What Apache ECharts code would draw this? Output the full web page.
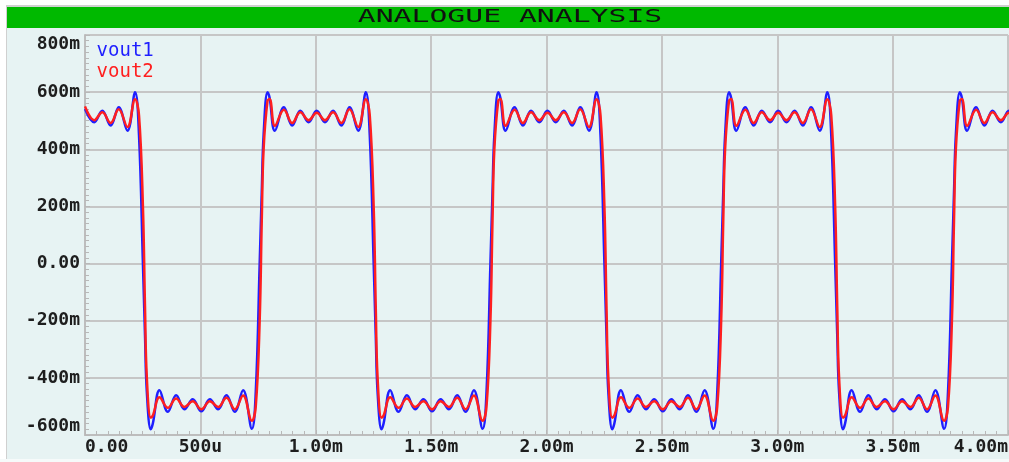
<!DOCTYPE html>
<html style="height: 100%">
<head>
    <meta charset="utf-8">
    <script src="https://cdn.jsdelivr.net/npm/echarts@6/dist/echarts.min.js"></script>
</head>
<body style="height: 100%; margin: 0; background: #fff">
    <div id="main" style="width: 1009px; height: 462px"></div>
    <script type="text/javascript">
        // time in ms
        var timeMs = [
            0, 0.04, 0.075, 0.111, 0.146, 0.184, 0.217, 0.234, 0.251, 0.26, 0.268, 0.285, 0.294, 0.323, 0.359, 0.395, 0.431, 0.467,
            0.504, 0.541, 0.577, 0.613, 0.649, 0.685, 0.723, 0.74, 0.757, 0.766, 0.774, 0.791, 0.8, 0.823, 0.862, 0.898, 0.933, 0.969,
            1.004, 1.04, 1.075, 1.111, 1.146, 1.184, 1.217, 1.234, 1.251, 1.26, 1.268, 1.285, 1.294, 1.323, 1.359, 1.395, 1.431, 1.467,
            1.504, 1.541, 1.577, 1.613, 1.649, 1.685, 1.723, 1.74, 1.757, 1.766, 1.774, 1.791, 1.8, 1.823, 1.862, 1.898, 1.933, 1.969,
            2.004, 2.04, 2.075, 2.111, 2.146, 2.184, 2.217, 2.234, 2.251, 2.26, 2.268, 2.285, 2.294, 2.323, 2.359, 2.395, 2.431, 2.467,
            2.504, 2.541, 2.577, 2.613, 2.649, 2.685, 2.723, 2.74, 2.757, 2.766, 2.774, 2.791, 2.8, 2.823, 2.862, 2.898, 2.933, 2.969,
            3.004, 3.04, 3.075, 3.111, 3.146, 3.184, 3.217, 3.234, 3.251, 3.26, 3.268, 3.285, 3.294, 3.323, 3.359, 3.395, 3.431, 3.467,
            3.504, 3.541, 3.577, 3.613, 3.649, 3.685, 3.723, 3.74, 3.757, 3.766, 3.774, 3.791, 3.8, 3.823, 3.862, 3.898, 3.933, 3.969,
            4.004, 4.04
        ];

        // volts
        var vout1 = [
            0.541, 0.495, 0.535, 0.483, 0.547, 0.465, 0.6, 0.45, 0, -0.25, -0.45, -0.58, -0.56, -0.443, -0.519, -0.461, -0.51, -0.475,
            -0.517, -0.475, -0.51, -0.461, -0.519, -0.443, -0.578, -0.45, 0, 0.25, 0.45, 0.6, 0.58, 0.465, 0.547, 0.483, 0.535, 0.495,
            0.535, 0.495, 0.535, 0.483, 0.547, 0.465, 0.6, 0.45, 0, -0.25, -0.45, -0.58, -0.56, -0.443, -0.519, -0.461, -0.51, -0.475,
            -0.517, -0.475, -0.51, -0.461, -0.519, -0.443, -0.578, -0.45, 0, 0.25, 0.45, 0.6, 0.58, 0.465, 0.547, 0.483, 0.535, 0.495,
            0.535, 0.495, 0.535, 0.483, 0.547, 0.465, 0.6, 0.45, 0, -0.25, -0.45, -0.58, -0.56, -0.443, -0.519, -0.461, -0.51, -0.475,
            -0.517, -0.475, -0.51, -0.461, -0.519, -0.443, -0.578, -0.45, 0, 0.25, 0.45, 0.6, 0.58, 0.465, 0.547, 0.483, 0.535, 0.495,
            0.535, 0.495, 0.535, 0.483, 0.547, 0.465, 0.6, 0.45, 0, -0.25, -0.45, -0.58, -0.56, -0.443, -0.519, -0.461, -0.51, -0.475,
            -0.517, -0.475, -0.51, -0.461, -0.519, -0.443, -0.578, -0.45, 0, 0.25, 0.45, 0.6, 0.58, 0.465, 0.547, 0.483, 0.535, 0.495,
            0.535, 0.495
        ];

        var vout2 = [
            0.55, 0.502, 0.53, 0.492, 0.54, 0.478, 0.575, 0.52, 0.2, -0.15, -0.4, -0.54, -0.532, -0.468, -0.505, -0.472, -0.502, -0.482,
            -0.51, -0.482, -0.502, -0.47, -0.51, -0.462, -0.55, -0.5, -0.2, 0.15, 0.4, 0.57, 0.576, 0.482, 0.538, 0.492, 0.53, 0.502,
            0.528, 0.502, 0.53, 0.492, 0.54, 0.478, 0.575, 0.52, 0.2, -0.15, -0.4, -0.54, -0.532, -0.468, -0.505, -0.472, -0.502, -0.482,
            -0.51, -0.482, -0.502, -0.47, -0.51, -0.462, -0.55, -0.5, -0.2, 0.15, 0.4, 0.57, 0.576, 0.482, 0.538, 0.492, 0.53, 0.502,
            0.528, 0.502, 0.53, 0.492, 0.54, 0.478, 0.575, 0.52, 0.2, -0.15, -0.4, -0.54, -0.532, -0.468, -0.505, -0.472, -0.502, -0.482,
            -0.51, -0.482, -0.502, -0.47, -0.51, -0.462, -0.55, -0.5, -0.2, 0.15, 0.4, 0.57, 0.576, 0.482, 0.538, 0.492, 0.53, 0.502,
            0.528, 0.502, 0.53, 0.492, 0.54, 0.478, 0.575, 0.52, 0.2, -0.15, -0.4, -0.54, -0.532, -0.468, -0.505, -0.472, -0.502, -0.482,
            -0.51, -0.482, -0.502, -0.47, -0.51, -0.462, -0.55, -0.5, -0.2, 0.15, 0.4, 0.57, 0.576, 0.482, 0.538, 0.492, 0.53, 0.502,
            0.528, 0.502
        ];

        var xTickLabels = ['0.00', '500u', '1.00m', '1.50m', '2.00m', '2.50m', '3.00m', '3.50m', '4.00m'];
        var yTickLabels = ['-600m', '-400m', '-200m', '0.00', '200m', '400m', '600m', '800m'];

        var gridColor = '#c6c6c6';
        var labelFont = {
            fontFamily: 'DejaVu Sans Mono',
            fontWeight: 'bold',
            fontSize: 18,
            color: '#1e1e1e'
        };

        var myChart = echarts.init(document.getElementById('main'));

        var option = {
            animation: false,
            backgroundColor: '#e7f3f3',
            graphic: [
                // white margin + frame
                { type: 'rect', shape: { x: 0, y: 0, width: 1009, height: 5 }, style: { fill: '#fff' }, silent: true },
                { type: 'rect', shape: { x: 0, y: 0, width: 6, height: 462 }, style: { fill: '#fff' }, silent: true },
                { type: 'rect', shape: { x: 0, y: 459, width: 1009, height: 3 }, style: { fill: '#f6fafa' }, silent: true },
                { type: 'rect', shape: { x: 6, y: 5, width: 1003, height: 2 }, style: { fill: '#d0d0d0' }, silent: true },
                { type: 'rect', shape: { x: 6, y: 5, width: 1, height: 454 }, style: { fill: '#d0d0d0' }, silent: true },
                // title bar
                { type: 'rect', shape: { x: 7, y: 7, width: 1002, height: 21 }, style: { fill: '#00b900' }, silent: true },
                {
                    type: 'text', x: 510, y: 18, scaleX: 1.75, silent: true,
                    style: {
                        text: 'ANALOGUE ANALYSIS',
                        fontFamily: 'DejaVu Sans Mono',
                        fontSize: 17,
                        fill: '#101010',
                        align: 'center',
                        verticalAlign: 'middle'
                    }
                }
            ],
            legend: {
                orient: 'vertical',
                left: 80,
                top: 37,
                itemWidth: 0,
                itemHeight: 14,
                itemGap: 2,
                selectedMode: false,
                itemStyle: { opacity: 0 },
                lineStyle: { opacity: 0 },
                textStyle: { fontFamily: 'DejaVu Sans Mono', fontSize: 19 },
                data: [
                    { name: 'vout1', textStyle: { color: '#1f1fff' } },
                    { name: 'vout2', textStyle: { color: '#ff1f1f' } }
                ]
            },
            grid: {
                left: 85,
                right: 1,
                top: 35,
                bottom: 27,
                containLabel: false,
                outerBoundsMode: 'none'
            },
            xAxis: {
                type: 'value',
                min: 0,
                max: 4,
                interval: 0.5,
                axisLine: { onZero: false, lineStyle: { color: '#bdbdbd', width: 2 } },
                axisTick: { show: true, inside: true, length: 5, lineStyle: { color: '#b8b8b8' } },
                minorTick: { show: true, splitNumber: 10, length: 4, lineStyle: { color: '#b8b8b8' } },
                splitLine: { show: true, lineStyle: { color: gridColor, width: 2 } },
                axisLabel: Object.assign({
                    margin: 3,
                    alignMinLabel: 'left',
                    alignMaxLabel: 'right',
                    formatter: function (v) { return xTickLabels[Math.round(v / 0.5)]; }
                }, labelFont)
            },
            yAxis: {
                type: 'value',
                min: -0.6,
                max: 0.8,
                interval: 0.2,
                axisLine: { show: true, onZero: false, lineStyle: { color: '#bdbdbd', width: 2 } },
                axisTick: { show: true, inside: true, length: 5, lineStyle: { color: '#b8b8b8' } },
                minorTick: { show: true, splitNumber: 10, length: 4, lineStyle: { color: '#b8b8b8' } },
                splitLine: { show: true, lineStyle: { color: gridColor, width: 2 } },
                axisLabel: Object.assign({
                    margin: 5,
                    verticalAlignMinLabel: 'bottom',
                    verticalAlignMaxLabel: 'top',
                    formatter: function (v) { return yTickLabels[Math.round(v * 5) + 3]; }
                }, labelFont)
            },
            series: [
                {
                    name: 'vout1',
                    type: 'line',
                    showSymbol: false,
                    smooth: 0.4,
                    color: '#1f1fff',
                    lineStyle: { width: 2.5 },
                    data: timeMs.map(function (t, i) { return [t, vout1[i]]; })
                },
                {
                    name: 'vout2',
                    type: 'line',
                    showSymbol: false,
                    smooth: 0.4,
                    color: '#ff1f1f',
                    lineStyle: { width: 2.5 },
                    data: timeMs.map(function (t, i) { return [t, vout2[i]]; })
                }
            ]
        };

        myChart.setOption(option);
    </script>
</body>
</html>
